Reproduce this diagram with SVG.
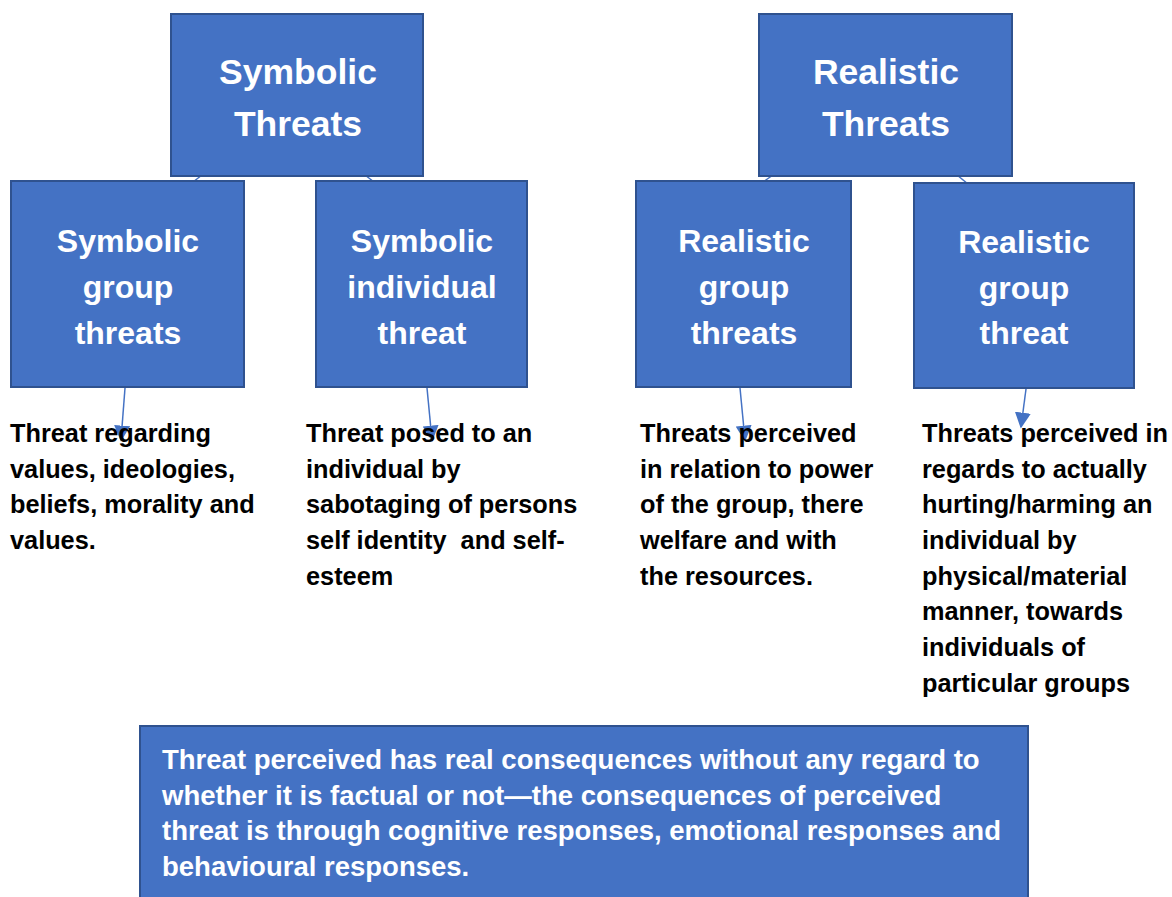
<svg xmlns="http://www.w3.org/2000/svg" width="1172" height="897" viewBox="0 0 1172 897">
  <defs>
    <style>
      .box { fill: #4472C4; stroke: #2F528F; stroke-width: 2; }
      .title { font-family: "Liberation Sans", Arial, sans-serif; font-weight: bold; fill: #FFFFFF; text-anchor: middle; }
      .t-top { font-size: 35.5px; }
      .t-sub { font-size: 32px; }
      .body { font-family: "Liberation Sans", Arial, sans-serif; font-weight: bold; font-size: 25.3px; fill: #000000; }
      .note { font-family: "Liberation Sans", Arial, sans-serif; font-weight: bold; font-size: 27.5px; fill: #FFFFFF; }
      .link { stroke: #4472C4; stroke-width: 1.5; fill: none; }
    </style>
    <marker id="head" viewBox="0 0 10 10" refX="9" refY="5" markerWidth="16" markerHeight="16" markerUnits="userSpaceOnUse" orient="auto">
      <path d="M0,0 L10,5 L0,10 Z" fill="#4472C4"/>
    </marker>
  </defs>

  <!-- connectors -->
  <g id="connectors">
    <line class="link" x1="202" y1="175" x2="193" y2="182"/>
    <line class="link" x1="365" y1="175" x2="374" y2="182"/>
    <line class="link" x1="773" y1="175" x2="763" y2="182"/>
    <line class="link" x1="957" y1="175" x2="968" y2="184"/>
    <line class="link" x1="125" y1="388" x2="121" y2="440" marker-end="url(#head)"/>
    <line class="link" x1="427" y1="388" x2="432" y2="440" marker-end="url(#head)"/>
    <line class="link" x1="740" y1="388" x2="745" y2="440" marker-end="url(#head)"/>
    <line class="link" x1="1026" y1="389" x2="1021" y2="427" marker-end="url(#head)"/>
  </g>

  <!-- top level -->
  <g id="symbolic-threats">
    <rect class="box" x="171" y="14" width="252" height="162"/>
    <text class="title t-top" x="298" y="84">Symbolic</text>
    <text class="title t-top" x="298" y="136">Threats</text>
  </g>
  <g id="realistic-threats">
    <rect class="box" x="759" y="14" width="253" height="162"/>
    <text class="title t-top" x="886" y="84">Realistic</text>
    <text class="title t-top" x="886" y="136">Threats</text>
  </g>

  <!-- second level -->
  <g id="symbolic-group">
    <rect class="box" x="11" y="181" width="233" height="206"/>
    <text class="title t-sub" x="128" y="252">Symbolic</text>
    <text class="title t-sub" x="128" y="298">group</text>
    <text class="title t-sub" x="128" y="344">threats</text>
  </g>
  <g id="symbolic-individual">
    <rect class="box" x="316" y="181" width="211" height="206"/>
    <text class="title t-sub" x="422" y="252">Symbolic</text>
    <text class="title t-sub" x="422" y="298">individual</text>
    <text class="title t-sub" x="422" y="344">threat</text>
  </g>
  <g id="realistic-group">
    <rect class="box" x="636" y="181" width="215" height="206"/>
    <text class="title t-sub" x="744" y="252">Realistic</text>
    <text class="title t-sub" x="744" y="298">group</text>
    <text class="title t-sub" x="744" y="344">threats</text>
  </g>
  <g id="realistic-individual">
    <rect class="box" x="914" y="183" width="220" height="205"/>
    <text class="title t-sub" x="1024" y="253">Realistic</text>
    <text class="title t-sub" x="1024" y="299">group</text>
    <text class="title t-sub" x="1024" y="344">threat</text>
  </g>

  <!-- descriptions -->
  <g id="desc-symbolic-group">
    <text class="body" x="10" y="442">Threat regarding</text>
    <text class="body" x="10" y="478">values, ideologies,</text>
    <text class="body" x="10" y="513">beliefs, morality and</text>
    <text class="body" x="10" y="549">values.</text>
  </g>
  <g id="desc-symbolic-individual">
    <text class="body" x="306" y="442">Threat posed to an</text>
    <text class="body" x="306" y="478">individual by</text>
    <text class="body" x="306" y="513">sabotaging of persons</text>
    <text class="body" x="306" y="549" xml:space="preserve">self identity  and self-</text>
    <text class="body" x="306" y="585">esteem</text>
  </g>
  <g id="desc-realistic-group">
    <text class="body" x="640" y="442">Threats perceived</text>
    <text class="body" x="640" y="478">in relation to power</text>
    <text class="body" x="640" y="513">of the group, there</text>
    <text class="body" x="640" y="549">welfare and with</text>
    <text class="body" x="640" y="585">the resources.</text>
  </g>
  <g id="desc-realistic-individual">
    <text class="body" x="922" y="442">Threats perceived in</text>
    <text class="body" x="922" y="478">regards to actually</text>
    <text class="body" x="922" y="513">hurting/harming an</text>
    <text class="body" x="922" y="549">individual by</text>
    <text class="body" x="922" y="585">physical/material</text>
    <text class="body" x="922" y="620">manner, towards</text>
    <text class="body" x="922" y="656">individuals of</text>
    <text class="body" x="922" y="692">particular groups</text>
  </g>

  <!-- summary -->
  <g id="summary">
    <rect class="box" x="140" y="726" width="888" height="180"/>
    <text class="note" x="162" y="769">Threat perceived has real consequences without any regard to</text>
    <text class="note" x="162" y="805">whether it is factual or not—the consequences of perceived</text>
    <text class="note" x="162" y="840">threat is through cognitive responses, emotional responses and</text>
    <text class="note" x="162" y="876">behavioural responses.</text>
  </g>
</svg>
